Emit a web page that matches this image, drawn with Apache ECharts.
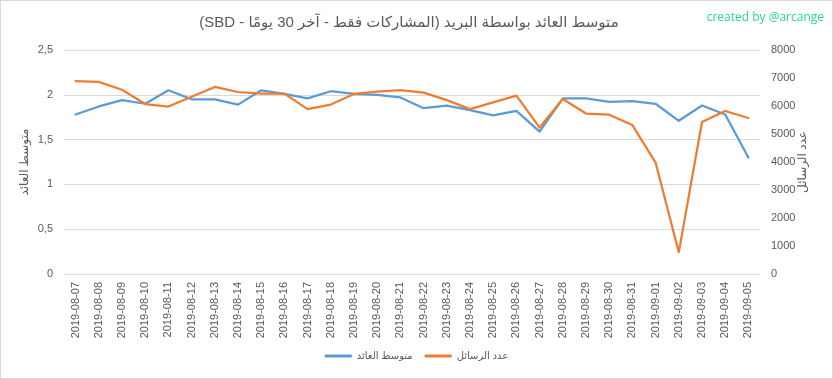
<!DOCTYPE html>
<html><head><meta charset="utf-8">
<script src="https://cdn.jsdelivr.net/npm/echarts@6/dist/echarts.min.js"></script>
<style>
html,body{margin:0;padding:0;background:#fff;}
#wrap{position:relative;width:833px;height:379px;}
#c{width:833px;height:379px;}
#frame{position:absolute;left:0;top:0;width:833px;height:379px;box-sizing:border-box;border:1px solid #d9d9d9;pointer-events:none;}
</style></head>
<body><div id="wrap"><div id="c"></div><div id="frame"></div></div>
<script>
const categories = ["2019-08-07","2019-08-08","2019-08-09","2019-08-10","2019-08-11","2019-08-12","2019-08-13","2019-08-14","2019-08-15","2019-08-16","2019-08-17","2019-08-18","2019-08-19","2019-08-20","2019-08-21","2019-08-22","2019-08-23","2019-08-24","2019-08-25","2019-08-26","2019-08-27","2019-08-28","2019-08-29","2019-08-30","2019-08-31","2019-09-01","2019-09-02","2019-09-03","2019-09-04","2019-09-05"];
const avgReturn = [1.78,1.87,1.94,1.90,2.05,1.95,1.95,1.89,2.05,2.01,1.96,2.04,2.01,2.00,1.97,1.85,1.88,1.83,1.77,1.82,1.59,1.96,1.96,1.92,1.93,1.90,1.71,1.88,1.78,1.30];
const messageCount = [6890,6860,6580,6070,5980,6330,6680,6500,6440,6440,5890,6050,6430,6510,6570,6480,6210,5890,6130,6370,5230,6250,5730,5690,5320,3980,780,5430,5820,5570];
const leftTicks = {min:0,max:2.5,interval:0.5};
const rightTicks = {min:0,max:8000,interval:1000};
const titleText = "متوسط العائد بواسطة البريد (المشاركات فقط - آخر 30 يومًا - SBD)";
const seriesNames = ["متوسط العائد","عدد الرسائل"];
const creditText = "created by @arcange";

const font = "'Liberation Sans','DejaVu Sans',sans-serif";
const txt = '#595959';
const chart = echarts.init(document.getElementById('c'), null, {renderer:'canvas'});
chart.setOption({
  animation:false,
  backgroundColor:'#fff',
  title:[{
    text:'\u202B' + titleText + '\u202C', left:404, top:10, textAlign:'center',
    textStyle:{fontSize:15, fontWeight:'normal', color:txt, fontFamily:font}
  },{
    text:creditText, right:4, top:7,
    textStyle:{fontSize:12, fontWeight:'normal', color:'#2ad4a4', fontFamily:"'Open Sans','DejaVu Sans',sans-serif"}
  }],
  legend:{
    bottom:13, left:'center', itemGap:12, itemWidth:27, itemHeight:3, icon:'rect',
    textStyle:{fontSize:10, color:txt, fontFamily:font},
    data:seriesNames
  },
  grid:{left:64, right:73, top:50, bottom:105},
  xAxis:{
    type:'category', data:categories, boundaryGap:true,
    axisLine:{lineStyle:{color:'#d9d9d9', width:1}},
    axisTick:{show:false},
    axisLabel:{rotate:90, interval:0, fontSize:11, color:txt, margin:8, fontFamily:font}
  },
  yAxis:[{
    type:'value', min:leftTicks.min, max:leftTicks.max, interval:leftTicks.interval,
    name:seriesNames[0], nameLocation:'middle', nameRotate:90, nameGap:33, nameMoveOverlap:false,
    nameTextStyle:{fontSize:12, color:txt, fontFamily:font},
    axisLine:{show:false}, axisTick:{show:false},
    axisLabel:{fontSize:11, color:txt, margin:11, fontFamily:font, formatter:v=>String(v).replace('.',',')},
    splitLine:{lineStyle:{color:'#d9d9d9', width:1}}
  },{
    type:'value', min:rightTicks.min, max:rightTicks.max, interval:rightTicks.interval,
    name:seriesNames[1], nameLocation:'middle', nameRotate:90, nameGap:37, nameMoveOverlap:false,
    nameTextStyle:{fontSize:12, color:txt, fontFamily:font},
    axisLine:{show:false}, axisTick:{show:false},
    axisLabel:{fontSize:11, color:txt, margin:11, fontFamily:font, formatter:v=>String(v)},
    splitLine:{show:false}
  }],
  series:[{
    name:seriesNames[0], type:'line', yAxisIndex:0, data:avgReturn,
    showSymbol:false, symbol:'none', color:'#5b9bd5',
    lineStyle:{color:'#5b9bd5', width:2.25, cap:'round', join:'round'}
  },{
    name:seriesNames[1], type:'line', yAxisIndex:1, data:messageCount,
    showSymbol:false, symbol:'none', color:'#ed7d31',
    lineStyle:{color:'#ed7d31', width:2.25, cap:'round', join:'round'}
  }]
});
</script></body></html>
